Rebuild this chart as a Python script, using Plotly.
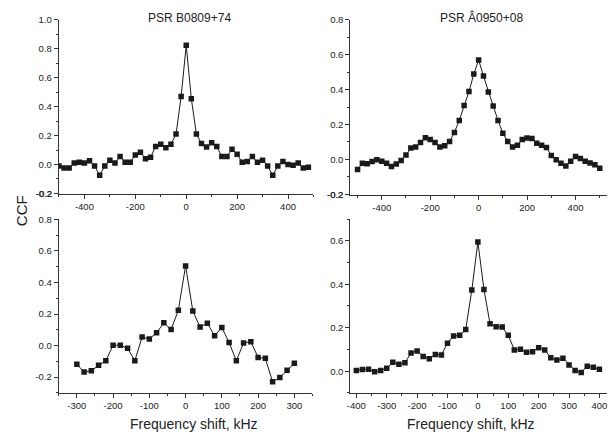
import plotly.graph_objects as go

# ---------------- data ----------------
x_tl = list(range(-500, 500, 20))
ccf_tl = [-0.01, -0.025, -0.025, 0.01, 0.015, 0.01, 0.025, -0.01, -0.075, -0.01,
          0.03, 0.01, 0.055, 0.015, 0.015, 0.065, 0.085, 0.04, 0.05, 0.125,
          0.14, 0.115, 0.14, 0.21, 0.47, 0.825, 0.455, 0.21, 0.145, 0.12,
          0.15, 0.125, 0.055, 0.055, 0.105, 0.07, 0.015, 0.02, 0.055, 0.015,
          0.03, -0.01, -0.075, -0.01, 0.02, 0.0, -0.005, 0.01, -0.025, -0.02]

x_tr = list(range(-500, 520, 20))
ccf_tr = [-0.058, -0.022, -0.025, -0.012, -0.002, -0.01, -0.022, -0.041, -0.026, -0.006,
          0.026, 0.065, 0.071, 0.097, 0.125, 0.114, 0.097, 0.071, 0.078, 0.103,
          0.155, 0.224, 0.31, 0.389, 0.49, 0.57, 0.478, 0.387, 0.307, 0.224,
          0.15, 0.103, 0.071, 0.082, 0.114, 0.123, 0.12, 0.093, 0.082, 0.069,
          0.022, -0.002, -0.022, -0.037, -0.01, 0.017, 0.006, -0.01, -0.02, -0.03,
          -0.05]

x_bl = list(range(-300, 320, 20))
ccf_bl = [-0.119, -0.167, -0.16, -0.125, -0.096, 0.002, 0.002, -0.017, -0.096, 0.054,
          0.042, 0.081, 0.144, 0.102, 0.223, 0.504, 0.219, 0.117, 0.142, 0.0625,
          0.115, 0.019, -0.096, 0.017, 0.025, -0.075, -0.081, -0.229, -0.202, -0.156,
          -0.1125]

x_br = list(range(-400, 420, 20))
ccf_br = [0.003, 0.008, 0.009, -0.003, 0.003, 0.014, 0.041, 0.032, 0.039, 0.084,
          0.093, 0.068, 0.057, 0.077, 0.075, 0.129, 0.162, 0.165, 0.192, 0.373,
          0.594, 0.376, 0.218, 0.205, 0.203, 0.165, 0.098, 0.101, 0.087, 0.09,
          0.108, 0.098, 0.062, 0.051, 0.06, 0.029, 0.003, -0.006, 0.023, 0.018,
          0.009]

xt_top = [-400, -200, 0, 200, 400]
xt_top_lbl = ["-400", "-200", "0", "200", "400"]
xt_bl = [-300, -200, -100, 0, 100, 200, 300]
xt_bl_lbl = ["-300", "-200", "-100", "0", "100", "200", "300"]
xt_br = [-400, -300, -200, -100, 0, 100, 200, 300, 400]
xt_br_lbl = ["-400", "-300", "-200", "-100", "0", "100", "200", "300", "400"]

yt_tl = [-0.2, 0.0, 0.2, 0.4, 0.6, 0.8, 1.0]
yt_tl_lbl = ["-0.2", "0.0", "0.2", "0.4", "0.6", "0.8", "1.0"]
yt_tr = [-0.2, 0.0, 0.2, 0.4, 0.6, 0.8]
yt_tr_lbl = ["-0.2", "0.0", "0.2", "0.4", "0.6", "0.8"]
yt_bl = [-0.2, 0.0, 0.2, 0.4, 0.6, 0.8]
yt_bl_lbl = ["-0.2", "0.0", "0.2", "0.4", "0.6", "0.8"]
yt_br = [0.0, 0.2, 0.4, 0.6]
yt_br_lbl = ["0.0", "0.2", "0.4", "0.6"]

title_tl = "PSR B0809+74"
title_tr = "PSR Â0950+08"
ylab = "CCF"
xlab = "Frequency shift, kHz"

# ---------------- figure ----------------
W, H = 608, 439
FONT = "Liberation Sans, Arial, Helvetica, sans-serif"
INK = "#1a1a1a"
LBL = "#222222"
EPS = 0.0015
TICKSIZE = 9.5

fig = go.Figure()

panels = [
    (x_tl, ccf_tl, "x", "y"),
    (x_tr, ccf_tr, "x2", "y2"),
    (x_bl, ccf_bl, "x3", "y3"),
    (x_br, ccf_br, "x4", "y4"),
]
for xs, ys, xa, ya in panels:
    fig.add_trace(go.Scatter(
        x=xs, y=ys, xaxis=xa, yaxis=ya, mode="lines+markers",
        line=dict(color=INK, width=1),
        marker=dict(symbol="square", size=5.5, color=INK),
        showlegend=False, hoverinfo="skip"))


def px_x(a, b):
    return [a / W, b / W]


def px_y(top, bottom):
    return [1 - bottom / H, 1 - top / H]


def axis(domain, rng, tv, tt, minor_dtick, anchor):
    return dict(
        domain=domain, range=rng, anchor=anchor,
        tickmode="array", tickvals=tv, ticktext=tt,
        showline=True, linecolor="#333333", linewidth=1,
        ticks="outside", ticklen=4, tickwidth=1, tickcolor="#333333",
        minor=dict(tickmode="linear", tick0=0, dtick=minor_dtick,
                   ticks="outside", ticklen=2, tickwidth=1, tickcolor="#333333"),
        showgrid=False, zeroline=False, mirror=False,
        tickfont=dict(family=FONT, size=TICKSIZE, color=LBL),
        fixedrange=True,
    )


fig.update_layout(
    width=W, height=H,
    margin=dict(l=0, r=0, t=0, b=0),
    paper_bgcolor="white", plot_bgcolor="white",
    xaxis=axis(px_x(56, 312), [-501, 500], xt_top, xt_top_lbl, 100, "y"),
    yaxis=axis(px_y(15, 193), [-0.2 - EPS, 1.0 + EPS], yt_tl, yt_tl_lbl, 0.1, "x"),
    xaxis2=axis(px_x(349, 607), [-530, 530], xt_top, xt_top_lbl, 100, "y2"),
    yaxis2=axis(px_y(15, 194), [-0.2 - EPS, 0.8 + EPS], yt_tr, yt_tr_lbl, 0.1, "x2"),
    xaxis3=axis(px_x(56, 311), [-350, 350], xt_bl, xt_bl_lbl, 50, "y3"),
    yaxis3=axis(px_y(219, 397), [-0.3, 0.8 + EPS], yt_bl, yt_bl_lbl, 0.1, "x3"),
    xaxis4=axis(px_x(349, 607), [-420, 425], xt_br, xt_br_lbl, 50, "y4"),
    yaxis4=axis(px_y(219, 397), [-0.1, 0.7], yt_br, yt_br_lbl, 0.1, "x4"),
)

# Plotly hides the corner y label (it sits on the x-axis line); draw it as text
# at the same data position on the y scale.
for xa, ya, tv, tt in [("x", "y", yt_tl, yt_tl_lbl), ("x2", "y2", yt_tr, yt_tr_lbl)]:
    fig.add_annotation(text=tt[0], x=0, xref=xa + " domain", y=tv[0], yref=ya,
                       xanchor="right", yanchor="middle", xshift=-5, showarrow=False,
                       font=dict(family=FONT, size=TICKSIZE, color=LBL))

ann = [
    dict(text=title_tl, x=187 / W, y=1 - 13 / H, size=12),
    dict(text=title_tr, x=481 / W, y=1 - 13 / H, size=12),
    dict(text=xlab, x=192 / W, y=1 - 429 / H, size=14),
    dict(text=xlab, x=470 / W, y=1 - 429 / H, size=14),
]
for a in ann:
    fig.add_annotation(text=a["text"], x=a["x"], y=a["y"], xref="paper", yref="paper",
                       xanchor="center", yanchor="middle", showarrow=False,
                       font=dict(family=FONT, size=a["size"], color=LBL))
fig.add_annotation(text=ylab, x=18 / W, y=1 - 210 / H, xref="paper", yref="paper",
                   xanchor="center", yanchor="middle", showarrow=False, textangle=-90,
                   font=dict(family=FONT, size=15, color=LBL))

fig.write_html("out.html")
